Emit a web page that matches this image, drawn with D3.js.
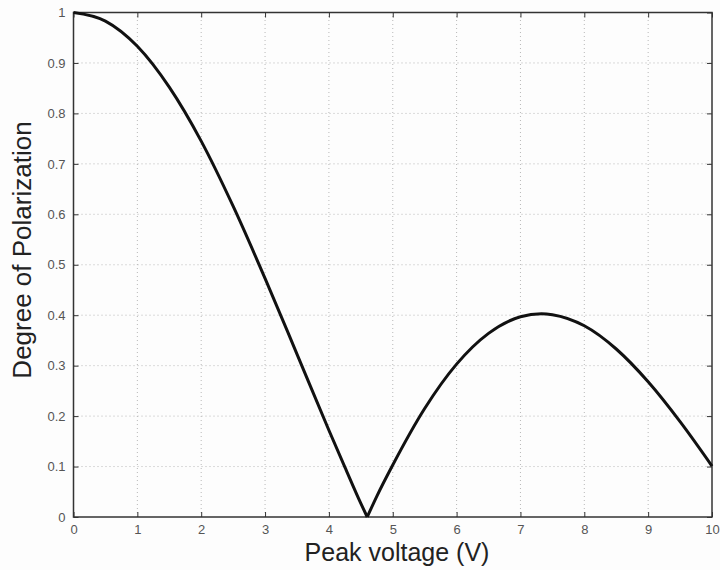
<!DOCTYPE html>
<html>
<head>
<meta charset="utf-8">
<script src="https://cdn.jsdelivr.net/npm/d3@7"></script>
<style>
  body { margin: 0; background: #fdfdfd; }
  svg { font-family: "Liberation Sans", Arial, sans-serif; }
</style>
</head>
<body>
<svg id="chart" width="720" height="570"></svg>
<script>
// values
const voltage = [0, 0.5, 1, 1.5, 2, 2.5, 3, 3.5, 4, 4.25, 4.5, 4.6, 4.75, 5, 5.5, 6, 6.5, 7, 7.33, 7.5, 8, 8.5, 9, 9.5, 10];
const polarization = [1, 0.983, 0.933, 0.852, 0.745, 0.616, 0.473, 0.323, 0.172, 0.099, 0.027, 0, 0.041, 0.103, 0.215, 0.303, 0.364, 0.397, 0.403, 0.401, 0.379, 0.333, 0.268, 0.189, 0.101];
const xTicks = [0, 1, 2, 3, 4, 5, 6, 7, 8, 9, 10];
const yTicks = [0, 0.1, 0.2, 0.3, 0.4, 0.5, 0.6, 0.7, 0.8, 0.9, 1];

const margin = { top: 12.5, right: 8, bottom: 53, left: 73.5 };
const width = 720, height = 570;

const svg = d3.select("#chart");

const x = d3.scaleLinear().domain([0, 10]).range([margin.left, width - margin.right]);
const y = d3.scaleLinear().domain([0, 1]).range([height - margin.bottom, margin.top]);

// grid
svg.append("g")
  .selectAll("line")
  .data(xTicks.slice(1, -1))
  .join("line")
  .attr("x1", d => x(d)).attr("x2", d => x(d))
  .attr("y1", y(0)).attr("y2", y(1))
  .attr("stroke", "#b8b8b8")
  .attr("stroke-dasharray", "1,3");

svg.append("g")
  .selectAll("line")
  .data(yTicks.slice(1, -1))
  .join("line")
  .attr("x1", x(0)).attr("x2", x(10))
  .attr("y1", d => y(d)).attr("y2", d => y(d))
  .attr("stroke", "#b8b8b8")
  .attr("stroke-dasharray", "1,3");

// axes with inward ticks
const styleAxis = g => {
  g.select(".domain").remove();
  g.selectAll(".tick line").attr("stroke", "#333").attr("stroke-width", 1);
  g.selectAll(".tick text").attr("fill", "#555").style("font-size", "13px");
};

svg.append("g")
  .attr("transform", `translate(0,${y(0)})`)
  .call(d3.axisBottom(x).tickValues(xTicks).tickFormat(d3.format("d")).tickSizeInner(-5).tickPadding(8))
  .call(styleAxis);

svg.append("g")
  .attr("transform", `translate(0,${y(1)})`)
  .call(d3.axisTop(x).tickValues(xTicks).tickFormat("").tickSizeInner(-5))
  .call(styleAxis);

svg.append("g")
  .attr("transform", `translate(${x(0)},0)`)
  .call(d3.axisLeft(y).tickValues(yTicks).tickFormat(d => d3.format("")(+d.toFixed(1))).tickSizeInner(-5).tickPadding(8))
  .call(styleAxis);

svg.append("g")
  .attr("transform", `translate(${x(10)},0)`)
  .call(d3.axisRight(y).tickValues(yTicks).tickFormat("").tickSizeInner(-5))
  .call(styleAxis);

// box
svg.append("rect")
  .attr("x", x(0)).attr("y", y(1))
  .attr("width", x(10) - x(0)).attr("height", y(0) - y(1))
  .attr("fill", "none")
  .attr("stroke", "#333")
  .attr("stroke-width", 1.5);

// curve, drawn as two arcs so the zero at 4.6 V stays a sharp cusp
const points = voltage.map((v, i) => [v, polarization[i]]);
const cusp = voltage.indexOf(4.6);
const segments = [points.slice(0, cusp + 1), points.slice(cusp)];

const line = d3.line()
  .x(d => x(d[0]))
  .y(d => y(d[1]))
  .curve(d3.curveMonotoneX);

svg.append("g")
  .selectAll("path")
  .data(segments)
  .join("path")
  .attr("d", line)
  .attr("fill", "none")
  .attr("stroke", "#111")
  .attr("stroke-width", 3)
  .attr("stroke-linejoin", "miter");

// labels
svg.append("text")
  .attr("x", 397)
  .attr("y", 561)
  .attr("text-anchor", "middle")
  .style("font-size", "25px")
  .attr("fill", "#222")
  .text("Peak voltage (V)");

svg.append("text")
  .attr("transform", `translate(31,250) rotate(-90)`)
  .attr("text-anchor", "middle")
  .style("font-size", "26px")
  .attr("fill", "#222")
  .text("Degree of Polarization");
</script>
</body>
</html>
